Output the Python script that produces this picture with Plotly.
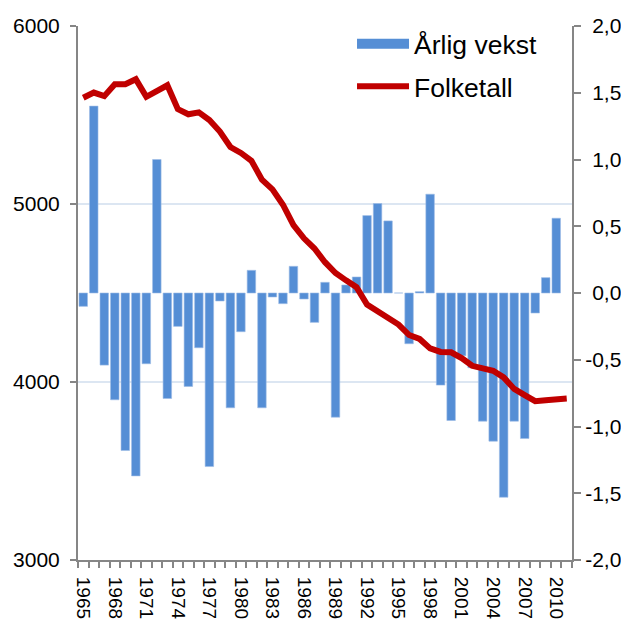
import plotly.graph_objects as go

years = list(range(1965, 2012))
bar_years = list(range(1965, 2011))
growth = [-0.10, 1.40, -0.54, -0.80, -1.18, -1.37, -0.53, 1.00, -0.79, -0.25,
          -0.70, -0.41, -1.30, -0.06, -0.86, -0.29, 0.17, -0.86, -0.03, -0.08,
          0.20, -0.045, -0.22, 0.08, -0.93, 0.06, 0.12, 0.58, 0.67, 0.54,
          0.00, -0.38, 0.01, 0.74, -0.69, -0.955, -0.47, -0.56, -0.96, -1.11,
          -1.53, -0.96, -1.09, -0.15, 0.115, 0.56]
population = [5597, 5626, 5606, 5673, 5673, 5701, 5602, 5636, 5667, 5533,
              5504, 5515, 5472, 5407, 5320, 5287, 5243, 5137, 5082, 4996,
              4881, 4807, 4750, 4673, 4612, 4571, 4533, 4435, 4398, 4366,
              4323, 4264, 4242, 4189, 4169, 4167, 4134, 4091, 4074, 4063,
              4026, 3961, 3926, 3892, 3898, 3905, 3907]
x_tick_years = list(range(1965, 2011, 3))
left_ticks = [3000, 4000, 5000, 6000]
right_ticks = [-2.0, -1.5, -1.0, -0.5, 0.0, 0.5, 1.0, 1.5, 2.0]
# U+2004 (1/3 em) pads positive labels to the width of the minus sign,
# so the right-axis labels line up on their right edge as in the original
right_tick_labels = ["-2,0", "-1,5", "-1,0", "-0,5", "\u20040,0",
                     "\u20040,5", "\u20041,0", "\u20041,5", "\u20042,0"]

FONT = "Liberation Sans, Arial, sans-serif"
AX = "#868686"
BLUE = "#558ED5"

fig = go.Figure()
fig.add_trace(go.Bar(
    x=bar_years, y=growth, name="Årlig vekst",
    marker=dict(color=BLUE, line=dict(color="#9dbce6", width=0.6)),
    yaxis="y", showlegend=False, legendgroup="g1",
))
# legend key for the bars (wide rectangle like the original)
fig.add_trace(go.Scatter(
    x=[None], y=[None], name="Årlig vekst", mode="lines",
    line=dict(color=BLUE, width=14), yaxis="y", legendgroup="g1",
))
fig.add_trace(go.Scatter(
    x=years, y=population, name="Folketall", mode="lines",
    line=dict(color="#C00000", width=6),
    yaxis="y2", legendgroup="g2",
))

fig.update_layout(
    width=621, height=613,
    margin=dict(l=70, r=57, t=14, b=61),
    paper_bgcolor="white", plot_bgcolor="white",
    font=dict(family=FONT, size=20, color="black"),
    bargap=0.19,
    showlegend=True,
    legend=dict(x=0.5547, y=1.011, xanchor="left", yanchor="top",
                font=dict(size=26.5, family=FONT, color="black"),
                bgcolor="rgba(0,0,0,0)", itemwidth=52,
                traceorder="grouped", tracegroupgap=5),
    xaxis=dict(
        range=[1964.5, 2011.5], tickvals=x_tick_years,
        ticktext=[str(y) for y in x_tick_years], tickangle=90,
        ticks="outside", ticklen=6, tickcolor="rgba(0,0,0,0)",
        ticklabelstandoff=5,
        minor=dict(tick0=1964.5, dtick=1, ticks="outside", ticklen=6,
                   tickcolor=AX, tickwidth=1.5, showgrid=False),
        showline=True, linecolor=AX, linewidth=2,
        showgrid=False, zeroline=False, automargin=False,
        tickfont=dict(size=19),
    ),
    yaxis=dict(
        side="right", range=[-2.0, 2.0],
        tickvals=right_ticks, ticktext=right_tick_labels,
        ticks="outside", ticklen=7, tickcolor=AX, tickwidth=1.5,
        showline=True, linecolor=AX, linewidth=2,
        showgrid=False, zeroline=False, automargin=False,
        tickfont=dict(size=21),
    ),
    yaxis2=dict(
        side="left", overlaying="y", range=[3000, 6000],
        tickvals=left_ticks,
        ticks="outside", ticklen=6, tickcolor=AX, tickwidth=1.5,
        ticklabelstandoff=6,
        showline=True, linecolor=AX, linewidth=2,
        showgrid=True, gridcolor="#dce6f2", gridwidth=1.5,
        zeroline=False, automargin=False,
        tickfont=dict(size=21),
    ),
)

fig.write_html("out.html")
